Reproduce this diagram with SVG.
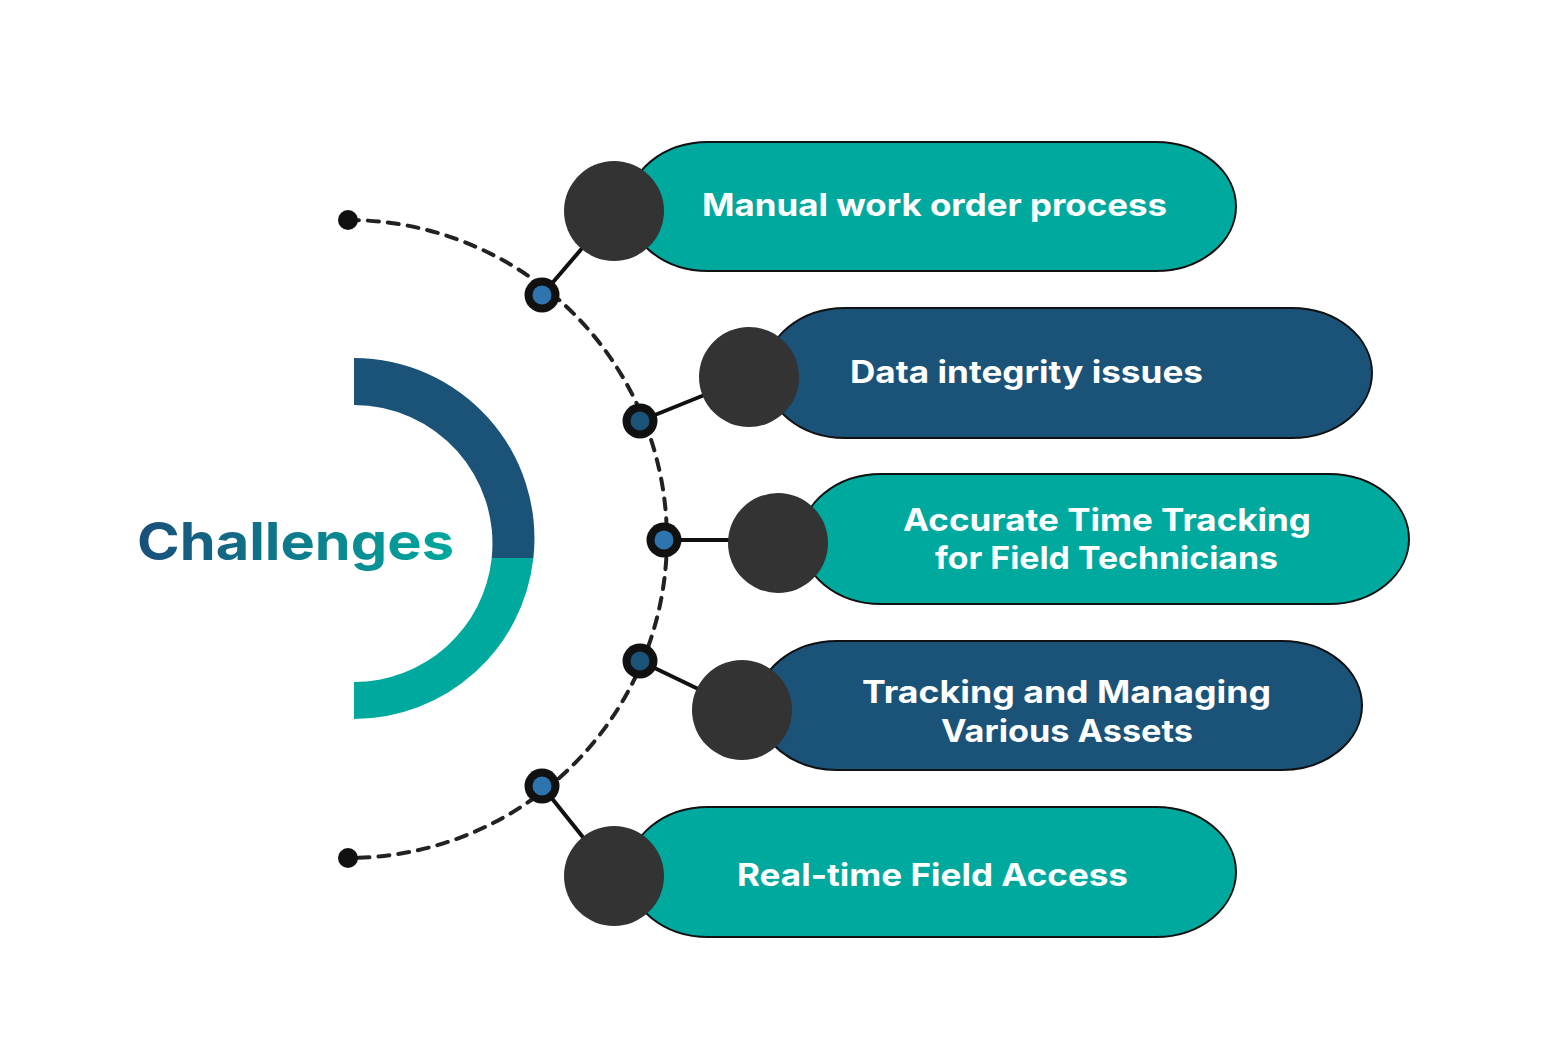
<svg xmlns="http://www.w3.org/2000/svg" width="1563" height="1042" viewBox="0 0 1563 1042">
<defs>
<linearGradient id="tg" x1="137" y1="0" x2="454" y2="0" gradientUnits="userSpaceOnUse">
<stop offset="0" stop-color="#1a4f7a"/>
<stop offset="1" stop-color="#00a99d"/>
</linearGradient>
<style>
.pt{fill:#00a99d;stroke:#111;stroke-width:2}
.pb{fill:#1a5278;stroke:#111;stroke-width:2}
.bc{fill:#333}
.lbl{font-family:Inter,"Open Sans","Liberation Sans",sans-serif;font-weight:700;font-size:31px;fill:#fff;text-anchor:middle}
.ln{stroke:#111;stroke-width:4;fill:none}
.dash{stroke:#222;stroke-width:4;fill:none;stroke-dasharray:11 9;stroke-linecap:round}
.dot{fill:#111}
.il{fill:#2e75b0}
.id{fill:#1a5278}
</style>
</defs>
<rect width="1563" height="1042" fill="#fff"/>
<g id="title">
<path d="M354,358 A180.5,180.5 0 0 1 533.4,558 L491.7,558 A138.5,138.5 0 0 0 354,405 Z" fill="#1a5278"/>
<path d="M533.4,558 A180.5,180.5 0 0 1 354,719 L354,682 A138.5,138.5 0 0 0 491.7,558 Z" fill="#00a99d"/>
<text x="295.5" y="560" font-family="Inter,'Open Sans','Liberation Sans',sans-serif" font-weight="700" font-size="52" fill="url(#tg)" text-anchor="middle" textLength="317" lengthAdjust="spacingAndGlyphs">Challenges</text>
</g>
<g id="connectors">
<path class="dash" d="M348,220 A319,319 0 0 1 348,858"/>
<circle class="dot" cx="348" cy="220" r="10"/>
<circle class="dot" cx="348" cy="858" r="10"/>
<line class="ln" x1="542" y1="295" x2="614" y2="211"/>
<line class="ln" x1="640" y1="421" x2="749" y2="377"/>
<line class="ln" x1="664" y1="540" x2="740" y2="540"/>
<line class="ln" x1="640" y1="661" x2="742" y2="710"/>
<line class="ln" x1="542" y1="786" x2="614" y2="876"/>
<circle class="dot" cx="542" cy="295" r="17.5"/><circle class="il" cx="542" cy="295" r="9.5"/>
<circle class="dot" cx="640" cy="421" r="17.5"/><circle class="id" cx="640" cy="421" r="9.5"/>
<circle class="dot" cx="664" cy="540" r="17.5"/><circle class="il" cx="664" cy="540" r="9.5"/>
<circle class="dot" cx="640" cy="661" r="17.5"/><circle class="id" cx="640" cy="661" r="9.5"/>
<circle class="dot" cx="542" cy="786" r="17.5"/><circle class="il" cx="542" cy="786" r="9.5"/>
</g>
<g id="node1">
<rect class="pt" x="628" y="142" width="608" height="129" rx="80" ry="64.5"/>
<circle class="bc" cx="614" cy="211" r="50"/>
<text class="lbl" x="934.5" y="216" textLength="465" lengthAdjust="spacingAndGlyphs">Manual work order process</text>
</g>
<g id="node2">
<rect class="pb" x="765" y="308" width="607" height="130" rx="80" ry="65"/>
<circle class="bc" cx="749" cy="377" r="50"/>
<text class="lbl" x="1026.5" y="383" textLength="353" lengthAdjust="spacingAndGlyphs">Data integrity issues</text>
</g>
<g id="node3">
<rect class="pt" x="801" y="474" width="608" height="130" rx="80" ry="65"/>
<circle class="bc" cx="778" cy="543" r="50"/>
<text class="lbl" x="1107" y="531" textLength="408" lengthAdjust="spacingAndGlyphs">Accurate Time Tracking</text>
<text class="lbl" x="1106.5" y="569" textLength="343" lengthAdjust="spacingAndGlyphs">for Field Technicians</text>
</g>
<g id="node4">
<rect class="pb" x="757" y="641" width="605" height="129" rx="80" ry="64.5"/>
<circle class="bc" cx="742" cy="710" r="50"/>
<text class="lbl" x="1066.5" y="703" textLength="409" lengthAdjust="spacingAndGlyphs">Tracking and Managing</text>
<text class="lbl" x="1067" y="742" textLength="252" lengthAdjust="spacingAndGlyphs">Various Assets</text>
</g>
<g id="node5">
<rect class="pt" x="628" y="807" width="608" height="130" rx="80" ry="65"/>
<circle class="bc" cx="614" cy="876" r="50"/>
<text class="lbl" x="932.5" y="886" textLength="391" lengthAdjust="spacingAndGlyphs">Real-time Field Access</text>
</g>
</svg>
